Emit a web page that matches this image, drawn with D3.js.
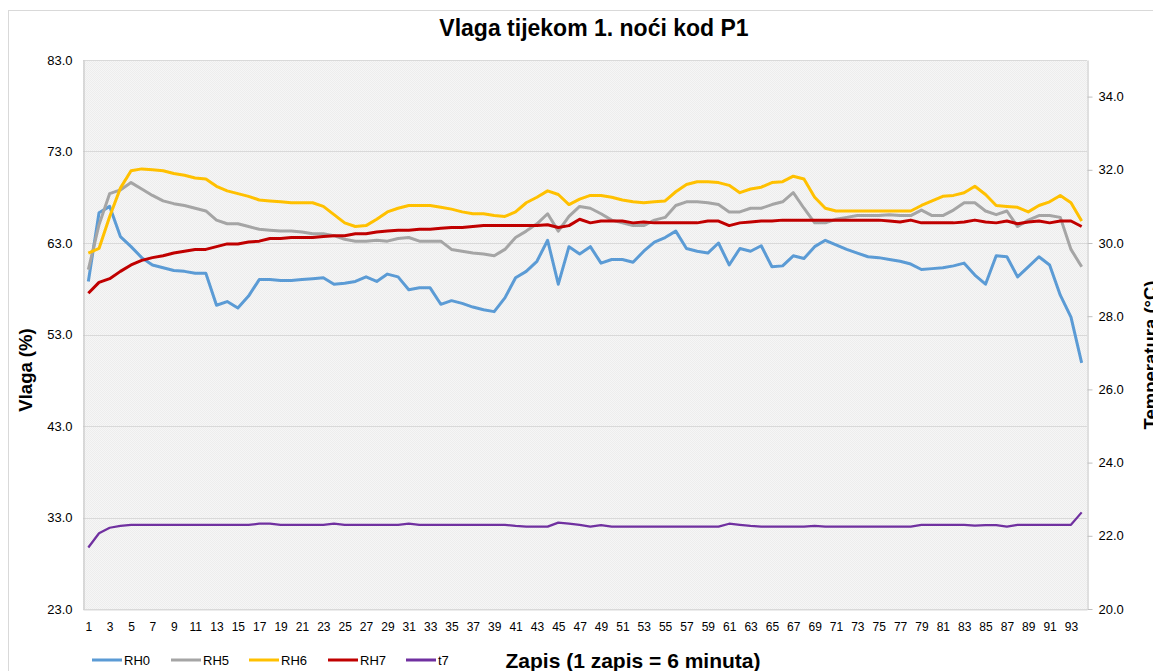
<!DOCTYPE html>
<html>
<head>
<meta charset="utf-8">
<script src="https://cdn.jsdelivr.net/npm/d3@7"></script>
<style>
  body { margin: 0; background: #fff; }
  text { font-family: "Liberation Sans", Arial, sans-serif; fill: #000; }
</style>
</head>
<body>
<script>
const records = d3.range(1, 95);

const rh0 = [58.8, 66.3, 67.0, 63.7, 62.6, 61.4, 60.6, 60.3, 60.0, 59.9, 59.7, 59.7, 56.2, 56.6, 55.9, 57.2,
  59.0, 59.0, 58.9, 58.9, 59.0, 59.1, 59.2, 58.5, 58.6, 58.8, 59.3, 58.8, 59.6, 59.3, 57.9, 58.1, 58.1,
  56.3, 56.7, 56.4, 56.0, 55.7, 55.5, 57.0, 59.2, 59.9, 61.0, 63.3, 58.5, 62.6, 61.8, 62.6, 60.8, 61.2,
  61.2, 60.9, 62.1, 63.1, 63.6, 64.3, 62.4, 62.1, 61.9, 63.0, 60.6, 62.4, 62.1, 62.7, 60.4, 60.5, 61.6,
  61.3, 62.6, 63.3, 62.8, 62.3, 61.9, 61.5, 61.4, 61.2, 61.0, 60.7, 60.1, 60.2, 60.3, 60.5, 60.8, 59.5,
  58.5, 61.6, 61.5, 59.3, 60.4, 61.5, 60.6, 57.3, 54.9, 49.9];

const rh5 = [60.1, 65.0, 68.4, 68.8, 69.6, 68.9, 68.2, 67.6, 67.3, 67.1, 66.8, 66.5, 65.5, 65.1, 65.1, 64.8,
  64.5, 64.4, 64.3, 64.3, 64.2, 64.0, 64.0, 63.8, 63.4, 63.2, 63.2, 63.3, 63.2, 63.5, 63.6, 63.2, 63.2,
  63.2, 62.3, 62.1, 61.9, 61.8, 61.6, 62.3, 63.6, 64.3, 65.1, 66.2, 64.3, 65.9, 67.0, 66.8, 66.2, 65.5,
  65.2, 64.9, 64.9, 65.5, 65.8, 67.1, 67.5, 67.5, 67.4, 67.2, 66.4, 66.4, 66.8, 66.8, 67.2, 67.5, 68.5,
  66.8, 65.2, 65.2, 65.6, 65.8, 66.0, 66.0, 66.0, 66.1, 66.0, 66.0, 66.6, 66.0, 66.0, 66.6, 67.4, 67.4,
  66.5, 66.1, 66.5, 64.8, 65.5, 66.0, 66.0, 65.8, 62.3, 60.4];

const rh6 = [61.9, 62.4, 65.9, 69.0, 70.9, 71.1, 71.0, 70.9, 70.6, 70.4, 70.1, 70.0, 69.2, 68.7, 68.4, 68.1,
  67.7, 67.6, 67.5, 67.4, 67.4, 67.4, 67.0, 66.1, 65.2, 64.8, 64.9, 65.6, 66.4, 66.8, 67.1, 67.1, 67.1,
  66.9, 66.7, 66.4, 66.2, 66.2, 66.0, 65.9, 66.4, 67.4, 68.0, 68.7, 68.3, 67.2, 67.8, 68.2, 68.2, 68.0,
  67.7, 67.5, 67.4, 67.5, 67.6, 68.6, 69.4, 69.7, 69.7, 69.6, 69.3, 68.5, 68.9, 69.1, 69.6, 69.7, 70.3,
  70.0, 68.0, 66.8, 66.5, 66.5, 66.5, 66.5, 66.5, 66.5, 66.5, 66.5, 67.1, 67.6, 68.1, 68.2, 68.5, 69.2,
  68.3, 67.1, 67.0, 66.9, 66.4, 67.1, 67.5, 68.2, 67.4, 65.4];

const rh7 = [57.5, 58.7, 59.1, 59.9, 60.6, 61.1, 61.4, 61.6, 61.9, 62.1, 62.3, 62.3, 62.6, 62.9, 62.9, 63.1,
  63.2, 63.5, 63.5, 63.6, 63.6, 63.6, 63.7, 63.8, 63.8, 64.0, 64.0, 64.2, 64.3, 64.4, 64.4, 64.5, 64.5,
  64.6, 64.7, 64.7, 64.8, 64.9, 64.9, 64.9, 64.9, 64.9, 64.9, 65.0, 64.7, 64.9, 65.6, 65.2, 65.4, 65.4,
  65.4, 65.2, 65.3, 65.2, 65.2, 65.2, 65.2, 65.2, 65.4, 65.4, 64.9, 65.2, 65.3, 65.4, 65.4, 65.5, 65.5,
  65.5, 65.5, 65.5, 65.5, 65.5, 65.5, 65.5, 65.5, 65.4, 65.3, 65.5, 65.2, 65.2, 65.2, 65.2, 65.3, 65.5,
  65.3, 65.2, 65.4, 65.1, 65.3, 65.4, 65.2, 65.4, 65.4, 64.8];

const t7 = [21.68, 22.07, 22.22, 22.27, 22.30, 22.30, 22.30, 22.30, 22.30, 22.30, 22.30, 22.30, 22.30, 22.30,
  22.30, 22.30, 22.33, 22.33, 22.30, 22.30, 22.30, 22.30, 22.30, 22.33, 22.30, 22.30, 22.30, 22.30, 22.30,
  22.30, 22.33, 22.30, 22.30, 22.30, 22.30, 22.30, 22.30, 22.30, 22.30, 22.30, 22.27, 22.25, 22.25, 22.25,
  22.36, 22.33, 22.30, 22.25, 22.29, 22.25, 22.25, 22.25, 22.25, 22.25, 22.25, 22.25, 22.25, 22.25, 22.25,
  22.25, 22.33, 22.30, 22.27, 22.25, 22.25, 22.25, 22.25, 22.25, 22.27, 22.25, 22.25, 22.25, 22.25, 22.25,
  22.25, 22.25, 22.25, 22.25, 22.30, 22.30, 22.30, 22.30, 22.30, 22.28, 22.29, 22.29, 22.25, 22.30, 22.30,
  22.30, 22.30, 22.30, 22.30, 22.64];

const humidityTicks = [23, 33, 43, 53, 63, 73, 83];
const tempTicks = [20, 22, 24, 26, 28, 30, 32, 34];
const xTickLabels = records.filter(d => d % 2 === 1);

const seriesNames = ['RH0', 'RH5', 'RH6', 'RH7', 't7'];
const seriesColors = ['#5b9bd5', '#a5a5a5', '#ffc000', '#c00000', '#7030a0'];

const width = 1153, height = 671;
const plot = { left: 83, right: 1087, top: 60, bottom: 609 };
const narrow = '"Liberation Sans Narrow", "Arial Narrow", sans-serif';

const svg = d3.select('body').append('svg')
  .attr('width', width)
  .attr('height', height);

svg.append('rect').attr('width', width).attr('height', height).attr('fill', '#fff');

// outer chart border (cropped on the right and bottom)
svg.append('rect')
  .attr('x', 8.5).attr('y', 10.5)
  .attr('width', 1300).attr('height', 800)
  .attr('fill', 'none').attr('stroke', '#d9d9d9');

const x = d3.scalePoint().domain(records).range([plot.left, plot.right]).padding(0.5);
const yL = d3.scaleLinear().domain([23, 83]).range([plot.bottom, plot.top]);
const yR = d3.scaleLinear().domain([20, 35]).range([plot.bottom, plot.top]);

// plot background with fine texture
const defs = svg.append('defs');
const pat = defs.append('pattern').attr('id', 'tex')
  .attr('width', 2).attr('height', 2).attr('patternUnits', 'userSpaceOnUse');
pat.append('rect').attr('width', 2).attr('height', 2).attr('fill', '#f6f6f6');
pat.append('rect').attr('width', 1).attr('height', 1).attr('fill', '#ededed');
pat.append('rect').attr('x', 1).attr('y', 1).attr('width', 1).attr('height', 1).attr('fill', '#ededed');

svg.append('rect')
  .attr('x', plot.left).attr('y', plot.top)
  .attr('width', plot.right - plot.left).attr('height', plot.bottom - plot.top)
  .attr('fill', 'url(#tex)');

// gridlines
svg.append('g')
  .selectAll('line')
  .data(humidityTicks)
  .enter().append('line')
  .attr('x1', plot.left).attr('x2', plot.right)
  .attr('y1', d => Math.round(yL(d)) + 0.5).attr('y2', d => Math.round(yL(d)) + 0.5)
  .attr('stroke', '#d9d9d9');

// left axis
const leftAxis = svg.append('g')
  .attr('transform', `translate(${plot.left + 0.5},0)`)
  .call(d3.axisLeft(yL).tickValues(humidityTicks).tickFormat(d3.format('.1f')).tickSize(0).tickPadding(11));
leftAxis.select('.domain').attr('stroke', '#bfbfbf');
leftAxis.selectAll('text').attr('font-size', 13).attr('font-family', '"Liberation Sans", Arial, sans-serif');

// right axis
const rightAxis = svg.append('g')
  .attr('transform', `translate(${plot.right + 0.5},0)`)
  .call(d3.axisRight(yR).tickValues(tempTicks).tickFormat(d3.format('.1f')).tickSize(5).tickSizeOuter(0).tickPadding(6));
rightAxis.select('.domain').attr('stroke', '#bfbfbf');
rightAxis.selectAll('line').attr('stroke', '#bfbfbf');
rightAxis.selectAll('text').attr('font-size', 13).attr('font-family', '"Liberation Sans", Arial, sans-serif');

// bottom axis
const bottomAxis = svg.append('g')
  .attr('transform', `translate(0,${plot.bottom + 0.5})`)
  .call(d3.axisBottom(x).tickValues(xTickLabels).tickSize(0).tickPadding(13));
bottomAxis.select('.domain').attr('stroke', '#d9d9d9');
bottomAxis.selectAll('text').attr('font-size', 12).attr('font-family', narrow);

// lines
const series = [rh0, rh5, rh6, rh7];
series.forEach((vals, i) => {
  svg.append('path')
    .datum(vals)
    .attr('fill', 'none')
    .attr('stroke', seriesColors[i])
    .attr('stroke-width', 3)
    .attr('stroke-linejoin', 'round')
    .attr('d', d3.line().x((d, j) => x(records[j])).y(d => yL(d)));
});
svg.append('path')
  .datum(t7)
  .attr('fill', 'none')
  .attr('stroke', seriesColors[4])
  .attr('stroke-width', 2.25)
  .attr('stroke-linejoin', 'round')
  .attr('d', d3.line().x((d, j) => x(records[j])).y(d => yR(d)));

// title
svg.append('text')
  .attr('x', 594).attr('y', 36)
  .attr('text-anchor', 'middle')
  .attr('font-size', 23).attr('font-weight', 'bold')
  .text('Vlaga tijekom 1. noći kod P1');

// axis titles
svg.append('text')
  .attr('transform', 'translate(32,370) rotate(-90)')
  .attr('text-anchor', 'middle')
  .attr('font-size', 18.5).attr('font-weight', 'bold')
  .text('Vlaga (%)');

svg.append('text')
  .attr('transform', 'translate(1157,355) rotate(-90)')
  .attr('text-anchor', 'middle')
  .attr('font-size', 18.5).attr('font-weight', 'bold')
  .text('Temperatura (°C)');

svg.append('text')
  .attr('x', 633).attr('y', 668)
  .attr('text-anchor', 'middle')
  .attr('font-size', 21).attr('font-weight', 'bold')
  .attr('font-family', narrow)
  .text('Zapis (1 zapis = 6 minuta)');

// legend
const legendX = [92, 171, 249, 328, 406];
const legend = svg.append('g');
seriesNames.forEach((name, i) => {
  const g = legend.append('g').attr('transform', `translate(${legendX[i]},660)`);
  g.append('line').attr('x1', 0).attr('x2', 30).attr('y1', 0).attr('y2', 0)
    .attr('stroke', seriesColors[i]).attr('stroke-width', 3);
  g.append('text').attr('x', 32).attr('y', 5)
    .attr('font-size', 13)
    .attr('font-family', narrow)
    .text(name);
});
</script>
</body>
</html>
